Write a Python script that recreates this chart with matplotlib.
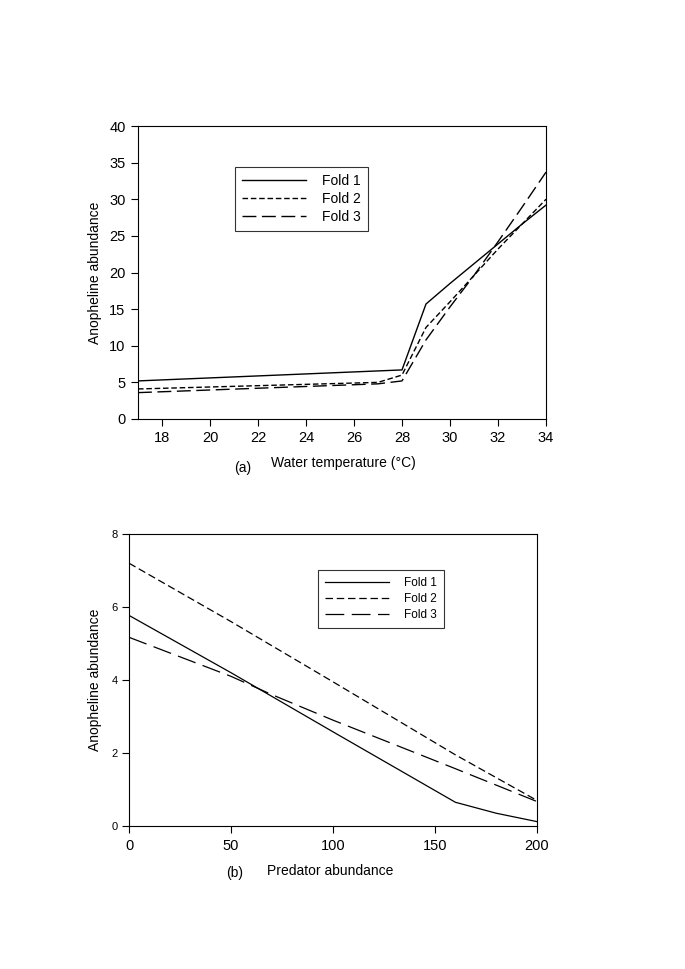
import numpy as np
import matplotlib.pyplot as plt

plt.rcParams['font.family'] = ['Liberation Sans', 'DejaVu Sans']

# (a) water temperature
temp = [17, 28, 29, 30, 31, 32, 33, 34]
fold1_a = [5.2, 6.7, 15.7, 18.5, 21.2, 23.9, 26.6, 29.2]
temp2 = [17, 27, 28, 29, 30, 31, 32, 33, 34]
fold2_a = [4.1, 5.0, 6.0, 12.5, 16.0, 19.6, 23.2, 26.6, 30.0]
fold3_a = [3.6, 4.8, 5.2, 10.8, 15.3, 19.6, 24.2, 28.9, 33.7]

# (b) predator abundance
pred = [0, 50, 100, 160, 180, 200]
fold1_b = [5.77, 4.2, 2.58, 0.65, 0.35, 0.12]
pred2 = [0, 50, 100, 160, 200]
fold2_b = [7.2, 5.6, 3.95, 1.95, 0.7]
pred3 = [0, 50, 70, 100, 160, 200]
fold3_b = [5.17, 4.1, 3.6, 2.9, 1.57, 0.67]

W, H = 685, 969
fig = plt.figure(figsize=(W/100, H/100), dpi=100)

def box(l, r, t, b):
    return [l/W, 1-b/H, (r-l)/W, (b-t)/H]

def fix_labels(ax, l, b, w, h, xl, yl):
    # place axis labels at pixel centres
    ax.xaxis.set_label_coords((xl[0]-l)/w, (b-xl[1])/h)
    ax.xaxis.label.set_va('center')
    ax.yaxis.set_label_coords((yl[0]-l)/w, (b-yl[1])/h)
    ax.yaxis.label.set_va('center')

# top panel
ax1 = fig.add_axes(box(138, 546, 126, 419))
ax1.plot(temp, fold1_a, color='black', lw=1.0, ls='-', label='Fold 1')
ax1.plot(temp2, fold2_a, color='black', lw=1.0, ls=(0, (4, 2)), label='Fold 2')
ax1.plot(temp2, fold3_a, color='black', lw=1.0, ls=(0, (10, 4)), label='Fold 3')
ax1.set_xlim(17, 34)
ax1.set_ylim(0, 40)
ax1.set_xticks(range(18, 35, 2))
ax1.set_yticks(range(0, 41, 5))
ax1.tick_params(labelsize=10.5, length=5, width=0.8, pad=4)
ax1.set_ylabel('Anopheline abundance', fontsize=10)
ax1.set_xlabel('Water temperature (°C)', fontsize=10)
fix_labels(ax1, 138, 419, 408, 293, (343, 463), (95, 273))
leg = ax1.legend(loc='upper left', bbox_to_anchor=((235-138)/408, (419-167)/293),
                 fontsize=10, frameon=True, fancybox=False, edgecolor='black',
                 handlelength=4.6, handletextpad=1.2, borderpad=0.5,
                 labelspacing=0.28, borderaxespad=0)
leg.get_frame().set_linewidth(0.8)
fig.text(243/W, 1-468/H, '(a)', fontsize=10, ha='center', va='center')

# bottom panel
ax2 = fig.add_axes(box(129, 537, 534, 826))
ax2.plot(pred, fold1_b, color='black', lw=0.9, ls='-', label='Fold 1')
ax2.plot(pred2, fold2_b, color='black', lw=0.9, ls=(0, (6, 3)), label='Fold 2')
ax2.plot(pred3, fold3_b, color='black', lw=0.9, ls=(0, (15, 6)), label='Fold 3')
ax2.set_xlim(0, 200)
ax2.set_ylim(0, 8)
ax2.set_xticks(range(0, 201, 50))
ax2.set_yticks(range(0, 9, 2))
ax2.tick_params(axis='x', labelsize=10.5, length=5, width=0.8, pad=4)
ax2.tick_params(axis='y', labelsize=8, length=5, width=0.8, pad=3)
ax2.set_ylabel('Anopheline abundance', fontsize=10)
ax2.set_xlabel('Predator abundance', fontsize=10)
fix_labels(ax2, 129, 826, 408, 292, (330, 871), (95, 680))
leg2 = ax2.legend(loc='upper left', bbox_to_anchor=((318-129)/408, (826-570)/292),
                  fontsize=8.5, frameon=True, fancybox=False, edgecolor='black',
                  handlelength=5.4, handletextpad=1.3, borderpad=0.6,
                  labelspacing=0.35, borderaxespad=0)
leg2.get_frame().set_linewidth(0.8)
fig.text(235/W, 1-873/H, '(b)', fontsize=10, ha='center', va='center')

for ax in (ax1, ax2):
    for s in ax.spines.values():
        s.set_linewidth(0.8)

fig.savefig('out.png', dpi=100)
